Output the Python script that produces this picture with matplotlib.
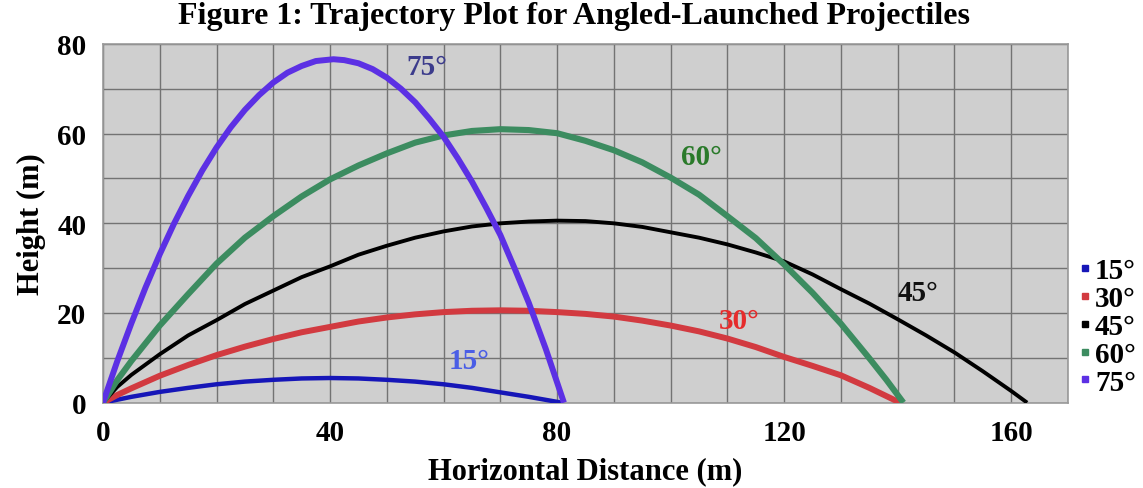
import numpy as np
import matplotlib.pyplot as plt
from matplotlib.lines import Line2D

# values
angles = ['15°', '30°', '45°', '60°', '75°']

x15 = [0, 5, 10, 15, 20, 25, 30, 35, 40, 45, 50, 55, 60, 65, 70, 75, 80.8]
y15 = [0, 1.3, 2.4, 3.3, 4.1, 4.7, 5.1, 5.4, 5.5, 5.4, 5.1, 4.7, 4.1, 3.3, 2.3, 1.3, 0]

x30 = [0, 2.5, 5, 10, 15, 20, 25, 30, 35, 40, 45, 50, 55, 60, 65, 70, 75, 80, 85, 90,
       95, 100, 105, 110, 115, 120, 125, 130, 135, 140.4]
y30 = [0, 1.7, 3.2, 6.0, 8.4, 10.6, 12.5, 14.2, 15.7, 16.9, 18.1, 19.0, 19.7, 20.2, 20.5,
       20.6, 20.5, 20.2, 19.8, 19.2, 18.3, 17.2, 15.9, 14.3, 12.4, 10.2, 8.2, 6.1, 3.3, 0]

x45 = [0, 2.5, 5, 10, 15, 20, 25, 30, 35, 40, 45, 50, 55, 60, 65, 70, 75, 80, 85, 90,
       95, 100, 105, 110, 115, 120, 125, 130, 135, 140, 145, 150, 155, 160, 162.8]
y45 = [0, 3.5, 6.2, 10.8, 15.0, 18.4, 22.0, 25.0, 28.0, 30.4, 33.0, 35.0, 36.8, 38.2,
       39.3, 40.0, 40.4, 40.6, 40.5, 40.0, 39.2, 38.0, 36.8, 35.3, 33.5, 31.5, 28.6,
       25.3, 22.1, 18.6, 15.0, 11.2, 7.0, 2.6, 0]

x60 = [0, 2.5, 5, 10, 15, 20, 25, 30, 35, 40, 45, 50, 55, 60, 65, 70, 75, 80, 85, 90,
       95, 100, 105, 110, 115, 120, 125, 130, 135, 138, 141]
y60 = [0, 5.0, 9.3, 17.2, 24.2, 31.0, 36.8, 41.6, 46.0, 49.8, 52.9, 55.6, 58.0, 59.6,
       60.6, 61.0, 60.8, 60.1, 58.4, 56.3, 53.6, 50.2, 46.4, 41.6, 36.7, 30.8, 24.5,
       17.6, 9.9, 5.1, 0]

x75 = [0, 2.5, 5, 7.5, 10, 12.5, 15, 17.5, 20, 22.5, 25, 27.5, 30, 32.5, 35, 37.5, 40.6,
       42.5, 45, 47.5, 50, 52.5, 55, 57.5, 60, 62.5, 65, 67.5, 70, 72.5, 75, 78, 81.2]
y75 = [0, 9.2, 17.7, 25.7, 33.1, 39.9, 46.1, 51.8, 56.9, 61.4, 65.3, 68.6, 71.4, 73.6,
       75.1, 76.2, 76.6, 76.4, 75.7, 74.4, 72.5, 70.0, 67.0, 63.3, 59.3, 54.5, 49.3,
       43.5, 37.4, 30.0, 22.3, 12.0, 0]

colors = ['#1616b8', '#d23a40', '#000000', '#3c8c60', '#5c30e4']
widths = [3.2, 4.3, 2.8, 4.4, 4.3]

label_pos = [(64.5, 9.3), (112, 18.3), (143.5, 24.5), (105.5, 55), (57, 75)]
label_col = ['#4a5ee6', '#e62c2c', '#111111', '#2a7a2a', '#3c3c8c']

serif = 'Liberation Serif'
plt.rcParams['font.family'] = [serif, 'DejaVu Serif']

fig = plt.figure(figsize=(11.43, 4.89), dpi=100)
ax = fig.add_axes([0.0901, 0.1745, 0.8443, 0.7335])
ax.set_facecolor('#cfcfcf')

series = [(x15, y15), (x30, y30), (x45, y45), (x60, y60), (x75, y75)]
for (xs, ys), c, w in zip(series, colors, widths):
    ax.plot(xs, ys, color=c, lw=w, solid_capstyle='butt', solid_joinstyle='round', zorder=3)

for txt, (tx, ty), c in zip(angles, label_pos, label_col):
    ax.text(tx, ty, txt, color=c, fontsize=21, fontweight='bold',
            ha='center', va='center', zorder=4)

ax.set_xlim(0, 170)
ax.set_ylim(0, 80)
ax.set_xticks([0, 40, 80, 120, 160])
ax.set_yticks([0, 20, 40, 60, 80])
ax.set_xticks(np.arange(0, 171, 10), minor=True)
ax.set_yticks(np.arange(0, 81, 10), minor=True)
ax.grid(True, which='both', color='#737373', lw=1.0, zorder=1)
ax.set_axisbelow(True)
ax.tick_params(which='both', length=0)
ax.tick_params(axis='x', pad=12, labelsize=21)
ax.tick_params(axis='y', pad=12, labelsize=21)
for lab in ax.get_xticklabels() + ax.get_yticklabels():
    lab.set_fontweight('bold')
for sp in ax.spines.values():
    sp.set_color('#9a9a9a')
    sp.set_linewidth(1.2)

ax.set_xlabel('Horizontal Distance (m)', fontsize=22, fontweight='bold', labelpad=7)
ax.set_ylabel('Height (m)', fontsize=22, fontweight='bold', labelpad=8)
fig.suptitle('Figure 1: Trajectory Plot for Angled-Launched Projectiles',
             fontsize=23, fontweight='bold', x=0.502, y=0.995)

handles = [Line2D([], [], marker='s', ls='', color=c, markersize=4) for c in colors]
fig.legend(handles, angles, loc='upper left', bbox_to_anchor=(0.944, 0.472),
           frameon=False, handlelength=0.4, handletextpad=0.15, labelspacing=0.03,
           borderpad=0, borderaxespad=0,
           prop={'family': serif, 'weight': 'bold', 'size': 21})

fig.savefig('out.png', dpi=100)
